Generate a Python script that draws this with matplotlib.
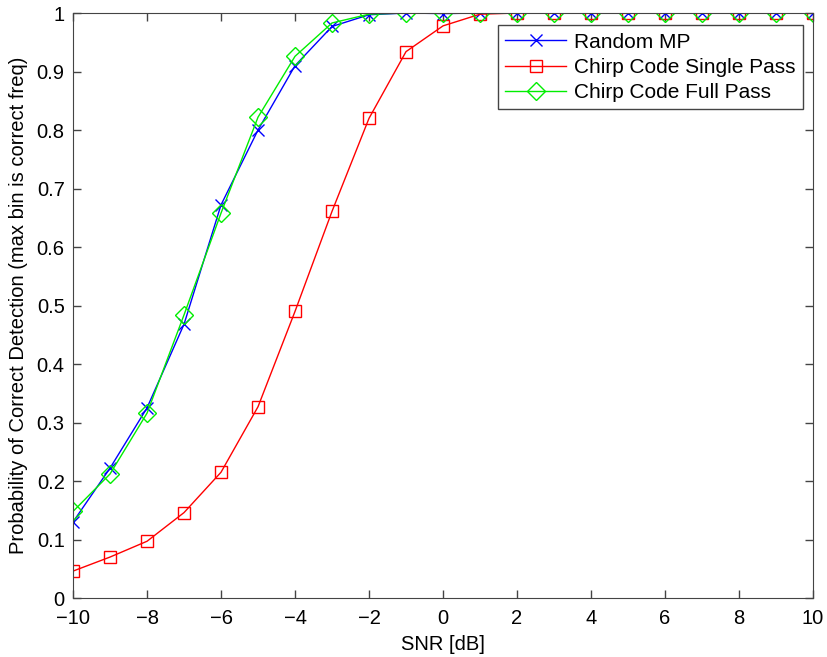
import matplotlib
matplotlib.use("Agg")
import matplotlib.pyplot as plt
import numpy as np

plt.rcParams['font.family'] = ['Liberation Sans', 'DejaVu Sans']

snr = list(range(-10, 11))

random_mp = [0.130, 0.222, 0.325, 0.468, 0.672, 0.800, 0.910, 0.977, 0.997, 1.0, 0.999,
             1.0, 1.0, 1.0, 1.0, 1.0, 1.0, 1.0, 1.0, 1.0, 1.0]
single_pass = [0.046, 0.070, 0.097, 0.146, 0.215, 0.327, 0.490, 0.661, 0.820, 0.934, 0.978,
               0.998, 1.0, 1.0, 1.0, 1.0, 1.0, 1.0, 1.0, 1.0, 1.0]
full_pass = [0.148, 0.212, 0.316, 0.484, 0.658, 0.822, 0.926, 0.983, 0.998, 1.0, 1.0,
             1.0, 1.0, 1.0, 1.0, 1.0, 1.0, 1.0, 1.0, 1.0, 1.0]

fig = plt.figure(figsize=(8.28, 6.57), dpi=100)
ax = fig.add_axes([0.0882, 0.0898, 0.8937, 0.8904])

ax.plot(snr, random_mp, color="blue", marker="x", markersize=8, linewidth=1,
        label="Random MP")
ax.plot(snr, single_pass, color="red", marker="s", markersize=9, linewidth=1,
        markerfacecolor="none", label="Chirp Code Single Pass")
ax.plot(snr, full_pass, color="#00ee00", marker="D", markersize=9, linewidth=1,
        markerfacecolor="none", label="Chirp Code Full Pass")

ax.set_xlim(-10, 10)
ax.set_ylim(0, 1)
ax.set_xticks(np.arange(-10, 11, 2))
ax.set_yticks(np.arange(0, 1.01, 0.1))
ax.set_yticklabels(["0", "0.1", "0.2", "0.3", "0.4", "0.5", "0.6", "0.7", "0.8", "0.9", "1"])
ax.set_xticklabels(["\u221210", "\u22128", "\u22126", "\u22124", "\u22122", "0", "2", "4", "6", "8", "10"])
ax.tick_params(direction="in", top=True, right=True, length=6, labelsize=14.5, width=1,
               colors="#444444", labelcolor="black")
ax.tick_params(axis="x", pad=8)
ax.tick_params(axis="y", pad=6)
for s in ax.spines.values():
    s.set_color("#444444")

ax.set_xlabel("SNR [dB]", fontsize=14.5, labelpad=5)
ax.set_ylabel("Probability of Correct Detection (max bin is correct freq)", fontsize=14.5,
              labelpad=6)

leg = ax.legend(loc="upper right", fontsize=15, fancybox=False, framealpha=1,
                edgecolor="#444444", borderpad=0.35, handlelength=2.9, handletextpad=0.4,
                labelspacing=0.3, borderaxespad=0, bbox_to_anchor=(0.9865, 0.979))
leg.get_frame().set_linewidth(1)

fig.savefig("out.png", dpi=100)
